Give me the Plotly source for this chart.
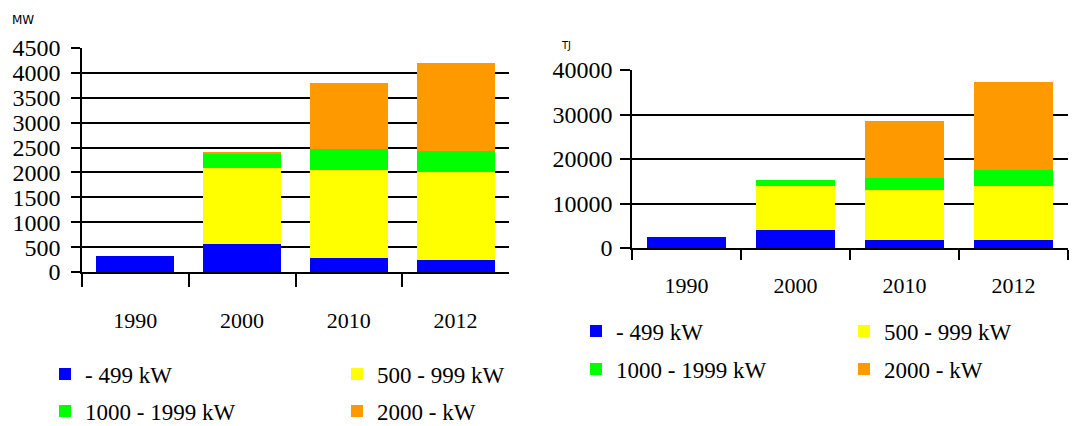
import plotly.graph_objects as go

# ---------------- data ----------------
years = ["1990", "2000", "2010", "2012"]
series_names = ["- 499 kW", "500 - 999 kW", "1000 - 1999 kW", "2000 - kW"]
colors = ["#0000FF", "#FFFF00", "#00FF00", "#FF9900"]

# Installed capacity, MW
mw_0_499 = [315, 556, 275, 234]
mw_500_999 = [0, 1527, 1768, 1769]
mw_1000_1999 = [0, 288, 422, 422]
mw_2000 = [0, 33, 1326, 1768]

# Production, TJ
tj_0_499 = [2400, 4000, 1730, 1730]
tj_500_999 = [0, 10000, 11280, 12250]
tj_1000_1999 = [0, 1280, 2780, 3610]
tj_2000 = [0, 0, 12860, 19620]

mw_tick_values = [0, 500, 1000, 1500, 2000, 2500, 3000, 3500, 4000, 4500]
tj_tick_values = [0, 10000, 20000, 30000, 40000]

# ---------------- figure ----------------
W, H = 1078, 426
OFF = 8  # page body margin


def fx(px):
    return (px - OFF) / W


def fy(py):
    return 1 - (py - OFF) / H


SERIF = "Liberation Serif, Times New Roman, serif"

fig = go.Figure()

mw_series = [mw_0_499, mw_500_999, mw_1000_1999, mw_2000]
tj_series = [tj_0_499, tj_500_999, tj_1000_1999, tj_2000]

for i, vals in enumerate(mw_series):
    fig.add_trace(go.Bar(
        x=years, y=vals, name=series_names[i],
        marker=dict(color=colors[i], line=dict(width=0)),
        xaxis="x", yaxis="y", width=0.73,
        legend="legend" if i < 2 else "legend2",
    ))

for i, vals in enumerate(tj_series):
    fig.add_trace(go.Bar(
        x=years, y=vals, name=series_names[i],
        marker=dict(color=colors[i], line=dict(width=0)),
        xaxis="x2", yaxis="y2", width=0.72,
        legend="legend3" if i < 2 else "legend4",
    ))

xcommon = dict(
    type="category", tickson="boundaries", ticks="outside", ticklen=13,
    tickwidth=1.5, tickcolor="black", showline=True, linecolor="black",
    linewidth=1.5, showgrid=False, zeroline=False, automargin=False,
    tickfont=dict(family=SERIF, size=22, color="black"),
)
ycommon = dict(
    ticks="outside", tickwidth=1.5, tickcolor="black", showline=True,
    linecolor="black", linewidth=1.5, showgrid=True, gridcolor="black",
    gridwidth=1.5, zeroline=False, automargin=False, tickformat="d",
    tickfont=dict(family=SERIF, size=24, color="black"),
)

legend_common = dict(
    orientation="h", xanchor="left", yanchor="middle",
    font=dict(family=SERIF, size=23, color="black"),
    bgcolor="rgba(0,0,0,0)", entrywidthmode="pixels",
    traceorder="normal",
)

fig.update_layout(
    width=W, height=H,
    margin=dict(l=0, r=0, t=0, b=0, pad=0, autoexpand=False),
    paper_bgcolor="white", plot_bgcolor="white",
    barmode="stack",
    xaxis=dict(xcommon, domain=[fx(82), fx(509)], anchor="y",
               ticklabelstandoff=28),
    yaxis=dict(ycommon, domain=[fy(272), fy(48)], anchor="x",
               range=[0, 4500], tickvals=mw_tick_values, ticklen=9,
               ticklabelstandoff=6),
    xaxis2=dict(xcommon, domain=[fx(632), fx(1068)], anchor="y2",
                ticklen=10, ticklabelstandoff=17),
    yaxis2=dict(ycommon, domain=[fy(248), fy(70)], anchor="x2",
                range=[0, 40000], tickvals=tj_tick_values, ticklen=10,
                ticklabelstandoff=3),
    legend=dict(legend_common, x=fx(45), y=fy(374), entrywidth=247),
    legend2=dict(legend_common, x=fx(45), y=fy(411), entrywidth=247),
    legend3=dict(legend_common, x=fx(576), y=fy(331), entrywidth=223),
    legend4=dict(legend_common, x=fx(576), y=fy(369), entrywidth=223),
    annotations=[
        dict(text="MW", x=fx(23), y=fy(20), xref="paper", yref="paper",
             showarrow=False, xanchor="center", yanchor="middle",
             font=dict(family="DejaVu Sans, Verdana, sans-serif", size=12,
                       color="black")),
        dict(text="TJ", x=fx(566), y=fy(45), xref="paper", yref="paper",
             showarrow=False, xanchor="center", yanchor="middle",
             font=dict(family="DejaVu Sans, Verdana, sans-serif", size=10,
                       color="black")),
    ],
)

fig.write_html("out.html")
